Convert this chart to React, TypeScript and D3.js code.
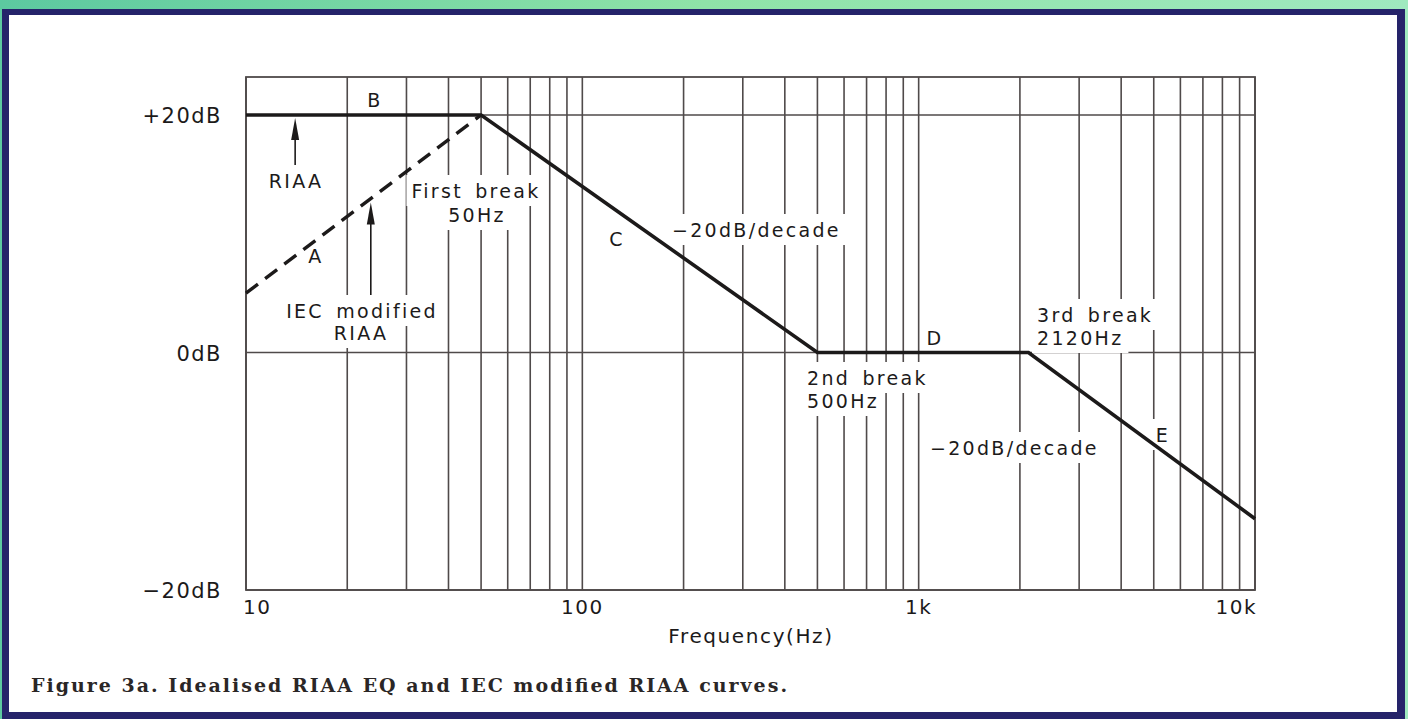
import { useEffect, useRef } from 'react';
import * as d3 from 'd3';

// break points of the idealised curves (Hz / dB)
const riaaFreq = [10, 50, 500, 2120, 10000];
const riaaDb = [20, 20, 0, 0, -14];
const iecFreq = [10, 50];
const iecDb = [5, 20];

const dbTicks = [20, 0, -20];
const dbTickLabels = ['+20dB', '0dB', '\u221220dB'];
const freqTicks = [10, 100, 1000, 10000];
const freqTickLabels = ['10', '100', '1k', '10k'];

const W = 1408;
const H = 719;
const left = 246;
const right = 1255;
const top = 77;
const bottom = 590;

const ink = '#1c1a1a';
const grid = '#4f4a4a';
const font = "'DejaVu Sans', sans-serif";

const App = () => {
  const ref = useRef<SVGSVGElement>(null);

  useEffect(() => {
    const svg = d3.select(ref.current);
    svg.selectAll('*').remove();

    const x = d3.scaleLog().domain([10, 10000]).range([left, right]);
    const y = d3.scaleLinear().domain([-20, 20]).range([bottom, 115]);

    // page frame
    const defs = svg.append('defs');
    const grad = defs.append('linearGradient').attr('id', 'bgGrad').attr('x1', 0).attr('x2', 1).attr('y1', 0).attr('y2', 0);
    grad.append('stop').attr('offset', '0%').attr('stop-color', '#5cc9a0');
    grad.append('stop').attr('offset', '50%').attr('stop-color', '#8fe3a8');
    grad.append('stop').attr('offset', '100%').attr('stop-color', '#9fe9bf');
    svg.append('rect').attr('width', W).attr('height', H).attr('fill', 'url(#bgGrad)');
    svg.append('rect').attr('x', 2).attr('y', 9).attr('width', 1403).attr('height', H - 9).attr('fill', '#25236a');
    svg.append('rect').attr('x', 9).attr('y', 15).attr('width', 1388).attr('height', 697).attr('fill', '#ffffff');

    const g = svg.append('g');

    // vertical grid (1..9 per decade)
    g.append('g')
      .selectAll('line')
      .data(x.ticks())
      .join('line')
      .attr('x1', (d) => x(d))
      .attr('x2', (d) => x(d))
      .attr('y1', top)
      .attr('y2', bottom)
      .attr('stroke', grid)
      .attr('stroke-width', 1.6);

    // horizontal grid
    g.append('g')
      .selectAll('line')
      .data(dbTicks)
      .join('line')
      .attr('x1', left)
      .attr('x2', right)
      .attr('y1', (d) => y(d))
      .attr('y2', (d) => y(d))
      .attr('stroke', grid)
      .attr('stroke-width', 1.6);

    g.append('rect')
      .attr('x', left)
      .attr('y', top)
      .attr('width', right - left)
      .attr('height', bottom - top)
      .attr('fill', 'none')
      .attr('stroke', grid)
      .attr('stroke-width', 1.8);

    // axis labels
    g.append('g')
      .selectAll('text')
      .data(dbTicks)
      .join('text')
      .attr('x', 222)
      .attr('y', (d) => y(d) + 8)
      .attr('text-anchor', 'end')
      .attr('font-size', 21)
      .attr('letter-spacing', 1.5)
      .attr('font-family', font)
      .attr('fill', ink)
      .text((d, i) => dbTickLabels[i]);

    g.append('g')
      .selectAll('text')
      .data(freqTicks)
      .join('text')
      .attr('x', (d, i) => (i === 0 ? x(d) - 3 : i === freqTicks.length - 1 ? x(d) + 2 : x(d)))
      .attr('y', 614)
      .attr('text-anchor', (d, i) => (i === 0 ? 'start' : i === freqTicks.length - 1 ? 'end' : 'middle'))
      .attr('font-size', 20)
      .attr('letter-spacing', 1.5)
      .attr('font-family', font)
      .attr('fill', ink)
      .text((d, i) => freqTickLabels[i]);

    g.append('text')
      .attr('x', 751)
      .attr('y', 643)
      .attr('text-anchor', 'middle')
      .attr('font-size', 20)
      .attr('letter-spacing', 1.6)
      .attr('font-family', font)
      .attr('fill', ink)
      .text('Frequency(Hz)');

    // annotation labels, with white patches cutting the grid
    const notes = [
      { t: 'B', x: 375, y: 107, a: 'middle', bg: false },
      { t: 'RIAA', x: 296, y: 188, a: 'middle', bg: true },
      { t: 'A', x: 316, y: 263, a: 'middle', bg: true },
      { t: 'First break', x: 476, y: 198, a: 'middle', bg: true },
      { t: '50Hz', x: 477, y: 222, a: 'middle', bg: true },
      { t: 'IEC modified', x: 362, y: 318, a: 'middle', bg: true },
      { t: 'RIAA', x: 361, y: 340, a: 'middle', bg: true },
      { t: 'C', x: 617, y: 246, a: 'middle', bg: true },
      { t: '\u221220dB/decade', x: 672, y: 237, a: 'start', bg: true },
      { t: 'D', x: 935, y: 345, a: 'middle', bg: false },
      { t: '2nd break', x: 807, y: 385, a: 'start', bg: true },
      { t: '500Hz', x: 807, y: 408, a: 'start', bg: true },
      { t: '3rd break', x: 1037, y: 322, a: 'start', bg: true },
      { t: '2120Hz', x: 1037, y: 345, a: 'start', bg: true },
      { t: '\u221220dB/decade', x: 930, y: 455, a: 'start', bg: true },
      { t: 'E', x: 1163, y: 442, a: 'middle', bg: true },
    ];

    const bgLayer = g.append('g');
    const curveLayer = g.append('g');
    const textLayer = g.append('g');

    notes.forEach((n) => {
      const tx = textLayer
        .append('text')
        .attr('x', n.x)
        .attr('y', n.y)
        .attr('text-anchor', n.a)
        .attr('font-size', 19)
        .attr('letter-spacing', 2.3)
        .attr('word-spacing', 4)
        .attr('font-family', font)
        .attr('fill', ink)
        .text(n.t);
      if (n.bg) {
        const b = (tx.node() as SVGTextElement).getBBox();
        bgLayer
          .append('rect')
          .attr('x', b.x - 5)
          .attr('y', b.y - 5)
          .attr('width', b.width + 10)
          .attr('height', b.height + 9)
          .attr('fill', '#ffffff');
      }
    });

    // curves
    const riaa = d3
      .line<number>()
      .x((d) => x(d))
      .y((d, i) => y(riaaDb[i]));
    const iec = d3
      .line<number>()
      .x((d) => x(d))
      .y((d, i) => y(iecDb[i]));

    curveLayer
      .append('path')
      .attr('d', iec(iecFreq))
      .attr('fill', 'none')
      .attr('stroke', ink)
      .attr('stroke-width', 3.4)
      .attr('stroke-dasharray', '15,9');

    curveLayer
      .append('path')
      .attr('d', riaa(riaaFreq))
      .attr('fill', 'none')
      .attr('stroke', ink)
      .attr('stroke-width', 3.6)
      .attr('stroke-linejoin', 'miter');

    // arrows
    const iecAt = (f: number) => {
      const t = Math.log10(f / iecFreq[0]) / Math.log10(iecFreq[1] / iecFreq[0]);
      return iecDb[0] + t * (iecDb[1] - iecDb[0]);
    };
    const arrows = [
      { f: 14, tip: y(riaaDb[0]) + 3, end: 165 },
      { f: 23.5, tip: y(iecAt(23.5)) + 4, end: 295 },
    ];
    arrows.forEach((a) => {
      const ax = x(a.f);
      curveLayer
        .append('line')
        .attr('x1', ax)
        .attr('x2', ax)
        .attr('y1', a.tip + 10)
        .attr('y2', a.end)
        .attr('stroke', ink)
        .attr('stroke-width', 1.6);
      curveLayer
        .append('path')
        .attr('d', `M${ax},${a.tip} L${ax - 4},${a.tip + 22} L${ax + 4},${a.tip + 22} Z`)
        .attr('fill', ink);
    });

    // caption
    svg
      .append('text')
      .attr('x', 31)
      .attr('y', 692)
      .attr('font-size', 19)
      .attr('font-weight', 'bold')
      .attr('font-family', "'DejaVu Serif', serif")
      .attr('textLength', 756)
      .attr('lengthAdjust', 'spacing')
      .attr('fill', '#2a2626')
      .text('Figure 3a. Idealised RIAA EQ and IEC modified RIAA curves.');
  }, []);

  return (
    <svg
      ref={ref}
      width={W}
      height={H}
      style={{ position: 'absolute', left: 0, top: 0, display: 'block' }}
    />
  );
};

export default App;
